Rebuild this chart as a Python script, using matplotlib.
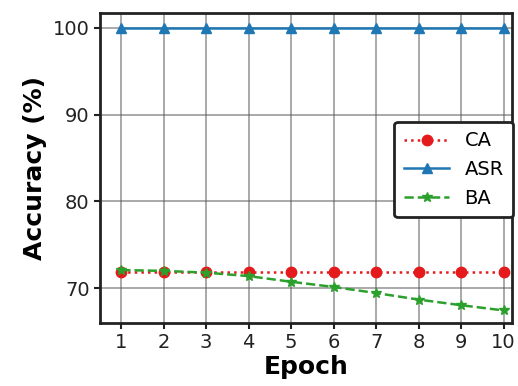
import matplotlib
matplotlib.use('Agg')
import matplotlib.pyplot as plt

epochs = [1, 2, 3, 4, 5, 6, 7, 8, 9, 10]
ca = [71.9, 71.9, 71.9, 71.9, 71.9, 71.9, 71.9, 71.9, 71.9, 71.9]
asr = [100, 100, 100, 100, 100, 100, 100, 100, 100, 100]
ba = [72.1, 72.0, 71.8, 71.4, 70.75, 70.15, 69.45, 68.7, 68.05, 67.45]

fig = plt.figure(figsize=(5.18, 3.86), dpi=100)
ax = fig.add_axes([100/518, 63/386, 412/518, 310/386])

ax.plot(epochs, ca, ':', color='#e41a1c', marker='o', markersize=7.5, lw=1.8, label='CA', zorder=3)
ax.plot(epochs, asr, '-', color='#1f77b4', marker='^', markersize=7.5, lw=1.8, label='ASR', zorder=3)
ax.plot(epochs, ba, '--', color='#2ca02c', marker='*', markersize=7.5, lw=1.8, label='BA', zorder=3)

ax.set_xlim(0.5, 10.2)
ax.set_ylim(66, 101.7)
ax.set_xticks(epochs)
ax.set_yticks([70, 80, 90, 100])
ax.tick_params(labelsize=14, width=1.5, length=4, colors='#222222')
ax.grid(True, color='0.35', lw=1.2, alpha=0.6)
for s in ax.spines.values():
    s.set_linewidth(2)
    s.set_color('#222222')

ax.set_xlabel('Epoch', fontsize=18, fontweight='bold', labelpad=2)
ax.set_ylabel('Accuracy (%)', fontsize=18, fontweight='bold')

leg = ax.legend(loc='center right', bbox_to_anchor=(1.027, 0.495), fontsize=14,
                framealpha=1, edgecolor='#222222', fancybox=True,
                handlelength=2.3, borderpad=0.5, labelspacing=0.5)
leg.get_frame().set_linewidth(2)

fig.savefig('out.png', dpi=100)
